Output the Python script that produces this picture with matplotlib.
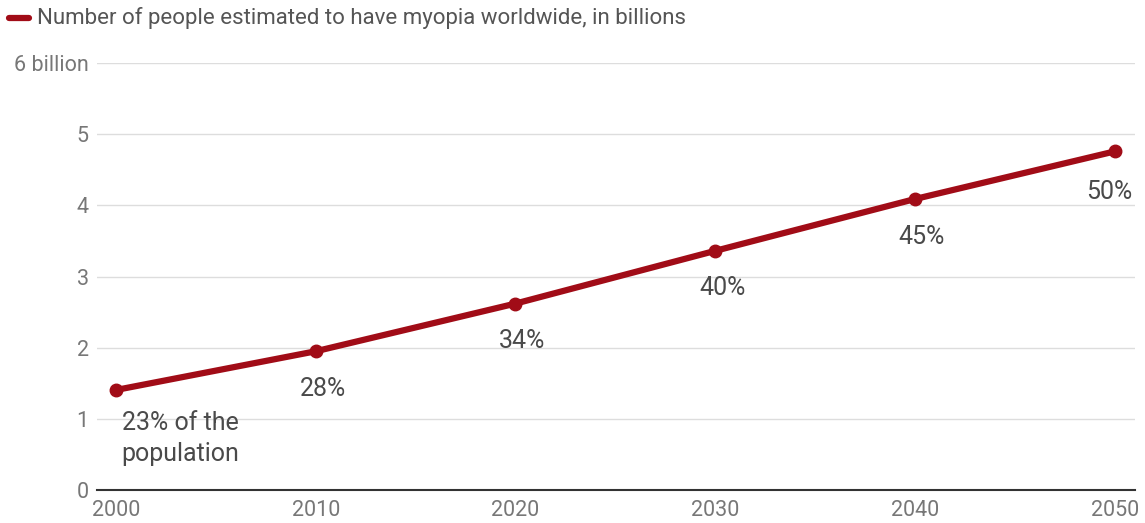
import matplotlib
matplotlib.use('Agg')
from matplotlib import pyplot as plt

plt.rcParams['font.family'] = ['Roboto', 'DejaVu Sans']

years = [2000, 2010, 2020, 2030, 2040, 2050]
myopia = [1.406, 1.950, 2.620, 3.361, 4.089, 4.758]
shares = ['23% of the\npopulation', '28%', '34%', '40%', '45%', '50%']
y_ticks = [0, 1, 2, 3, 4, 5, 6]
y_labels = ['0', '1', '2', '3', '4', '5', '6 billion']
legend_text = 'Number of people estimated to have myopia worldwide, in billions'

red = '#a10c17'
grey = '#777777'

fig = plt.figure(figsize=(11.45, 5.23), dpi=100)
ax = fig.add_axes([0.0847, 0.063, 0.9063, 0.8165])

ax.plot(years, myopia, color=red, linewidth=4.5, marker='o', markersize=9,
        solid_capstyle='round', zorder=3)

for i, (x, y, s) in enumerate(zip(years, myopia, shares)):
    if i == 0:
        ax.annotate(s, (x, y), xytext=(4, -15), textcoords='offset points',
                    ha='left', va='top', fontsize=18, color='#4a4a4a',
                    linespacing=1.4)
    elif i == len(years) - 1:
        ax.annotate(s, (x, y), xytext=(-4, -29), textcoords='offset points',
                    ha='center', va='center', fontsize=18, color='#4a4a4a')
    else:
        ax.annotate(s, (x, y), xytext=(5, -27), textcoords='offset points',
                    ha='center', va='center', fontsize=18, color='#4a4a4a')

ax.set_xlim(1999.05, 2051)
ax.set_ylim(0, 6)
ax.set_xticks(years)
ax.set_yticks(y_ticks)
ax.set_yticklabels(y_labels)
ax.tick_params(axis='both', length=0, labelsize=15.5, labelcolor=grey)
ax.tick_params(axis='y', pad=6)
ax.tick_params(axis='x', pad=7)
ax.grid(axis='y', color='#dddddd', linewidth=1)
ax.set_axisbelow(True)
for side in ['top', 'right', 'left']:
    ax.spines[side].set_visible(False)
ax.spines['bottom'].set_color('#333333')
ax.spines['bottom'].set_linewidth(1.5)

# legend at top left
fig.lines.append(plt.Line2D([0.008, 0.025], [0.966, 0.966], color=red,
                            linewidth=4.5, solid_capstyle='round',
                            transform=fig.transFigure))
fig.text(0.032, 0.966, legend_text, fontsize=16, color='#555555',
         va='center', ha='left')

fig.savefig('out.png', dpi=100)
